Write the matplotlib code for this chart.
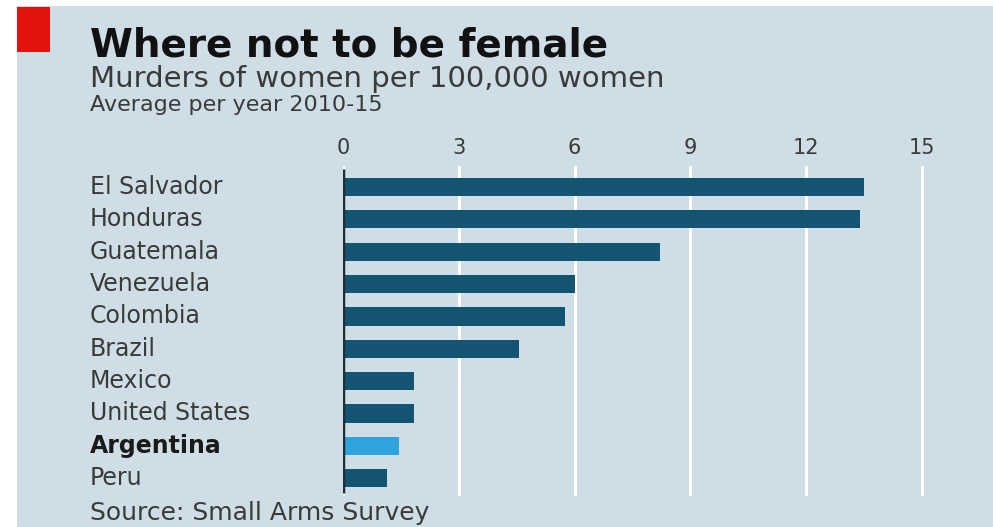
import matplotlib
matplotlib.use("Agg")
import matplotlib.pyplot as plt
from matplotlib.patches import Rectangle
import matplotlib.transforms as mtransforms

countries = ["El Salvador", "Honduras", "Guatemala", "Venezuela", "Colombia",
             "Brazil", "Mexico", "United States", "Argentina", "Peru"]
values = [13.5, 13.4, 8.2, 6.0, 5.75, 4.55, 1.85, 1.85, 1.45, 1.15]
highlight = "Argentina"
xticks = [0, 3, 6, 9, 12, 15]

title = "Where not to be female"
subtitle = "Murders of women per 100,000 women"
subsub = "Average per year 2010-15"
source = "Source: Small Arms Survey"

BG = "#cfdde6"
DARK = "#135470"
LIGHT = "#2ea3dc"
TXT = "#3a3a3a"

W, H = 993, 527
fig = plt.figure(figsize=(W / 100, H / 100), dpi=100, facecolor="white")
plt.rcParams['font.family'] = ['DejaVu Sans']

# background panel
fig.patches.append(Rectangle((17 / W, 0), 1 - 17 / W, 1 - 6 / H, transform=fig.transFigure,
                             facecolor=BG, edgecolor="none", zorder=-5))
# red tag
fig.patches.append(Rectangle((17 / W, 1 - 52 / H), 33 / W, 45 / H, transform=fig.transFigure,
                             facecolor="#e3120b", edgecolor="none", zorder=-4))

XMAX = 15.3
left = 343 / W
right = (343 + 579 / 15 * XMAX) / W
top = 1 - 166 / H
bottom = 1 - 496 / H
ax = fig.add_axes([left, bottom, right - left, top - bottom])
ax.set_zorder(5)
ax.set_facecolor("none")

n = len(countries)
ypos = list(range(n))
colors = [LIGHT if c == highlight else DARK for c in countries]
ax.barh(ypos, values, height=0.56, color=colors, zorder=3)
ax.set_ylim(n - 0.45, -0.65)
ax.set_xlim(0, XMAX)

ax.xaxis.tick_top()
ax.set_xticks(xticks)
ax.set_xticklabels([str(t) for t in xticks], fontsize=15, color=TXT)
ax.tick_params(axis="x", length=0, pad=6)
ax.set_yticks([])
for s in ax.spines.values():
    s.set_visible(False)
ax.grid(axis="x", color="white", linewidth=2.2, zorder=1)
ax.plot([0, 0], [n - 0.55, -0.55], color="#1d2c38", linewidth=2.5, zorder=4,
        solid_capstyle="butt")

trans = mtransforms.blended_transform_factory(fig.transFigure, ax.transData)
for i, c in enumerate(countries):
    ax.text(90 / W, i, c, transform=trans, ha="left", va="center",
            fontsize=17, color="#1a1a1a" if c == highlight else TXT,
            fontweight="bold" if c == highlight else "normal")

fig.text(90 / W, 1 - 45 / H, title, fontsize=28, fontweight="bold", color="#111111",
         ha="left", va="center")
fig.text(90 / W, 1 - 79 / H, subtitle, fontsize=21, color=TXT, ha="left", va="center")
fig.text(90 / W, 1 - 105 / H, subsub, fontsize=16, color=TXT, ha="left", va="center")
fig.text(90 / W, 1 - 513 / H, source, fontsize=18, color=TXT, ha="left", va="center")

fig.savefig("out.png", dpi=100, facecolor="white")
